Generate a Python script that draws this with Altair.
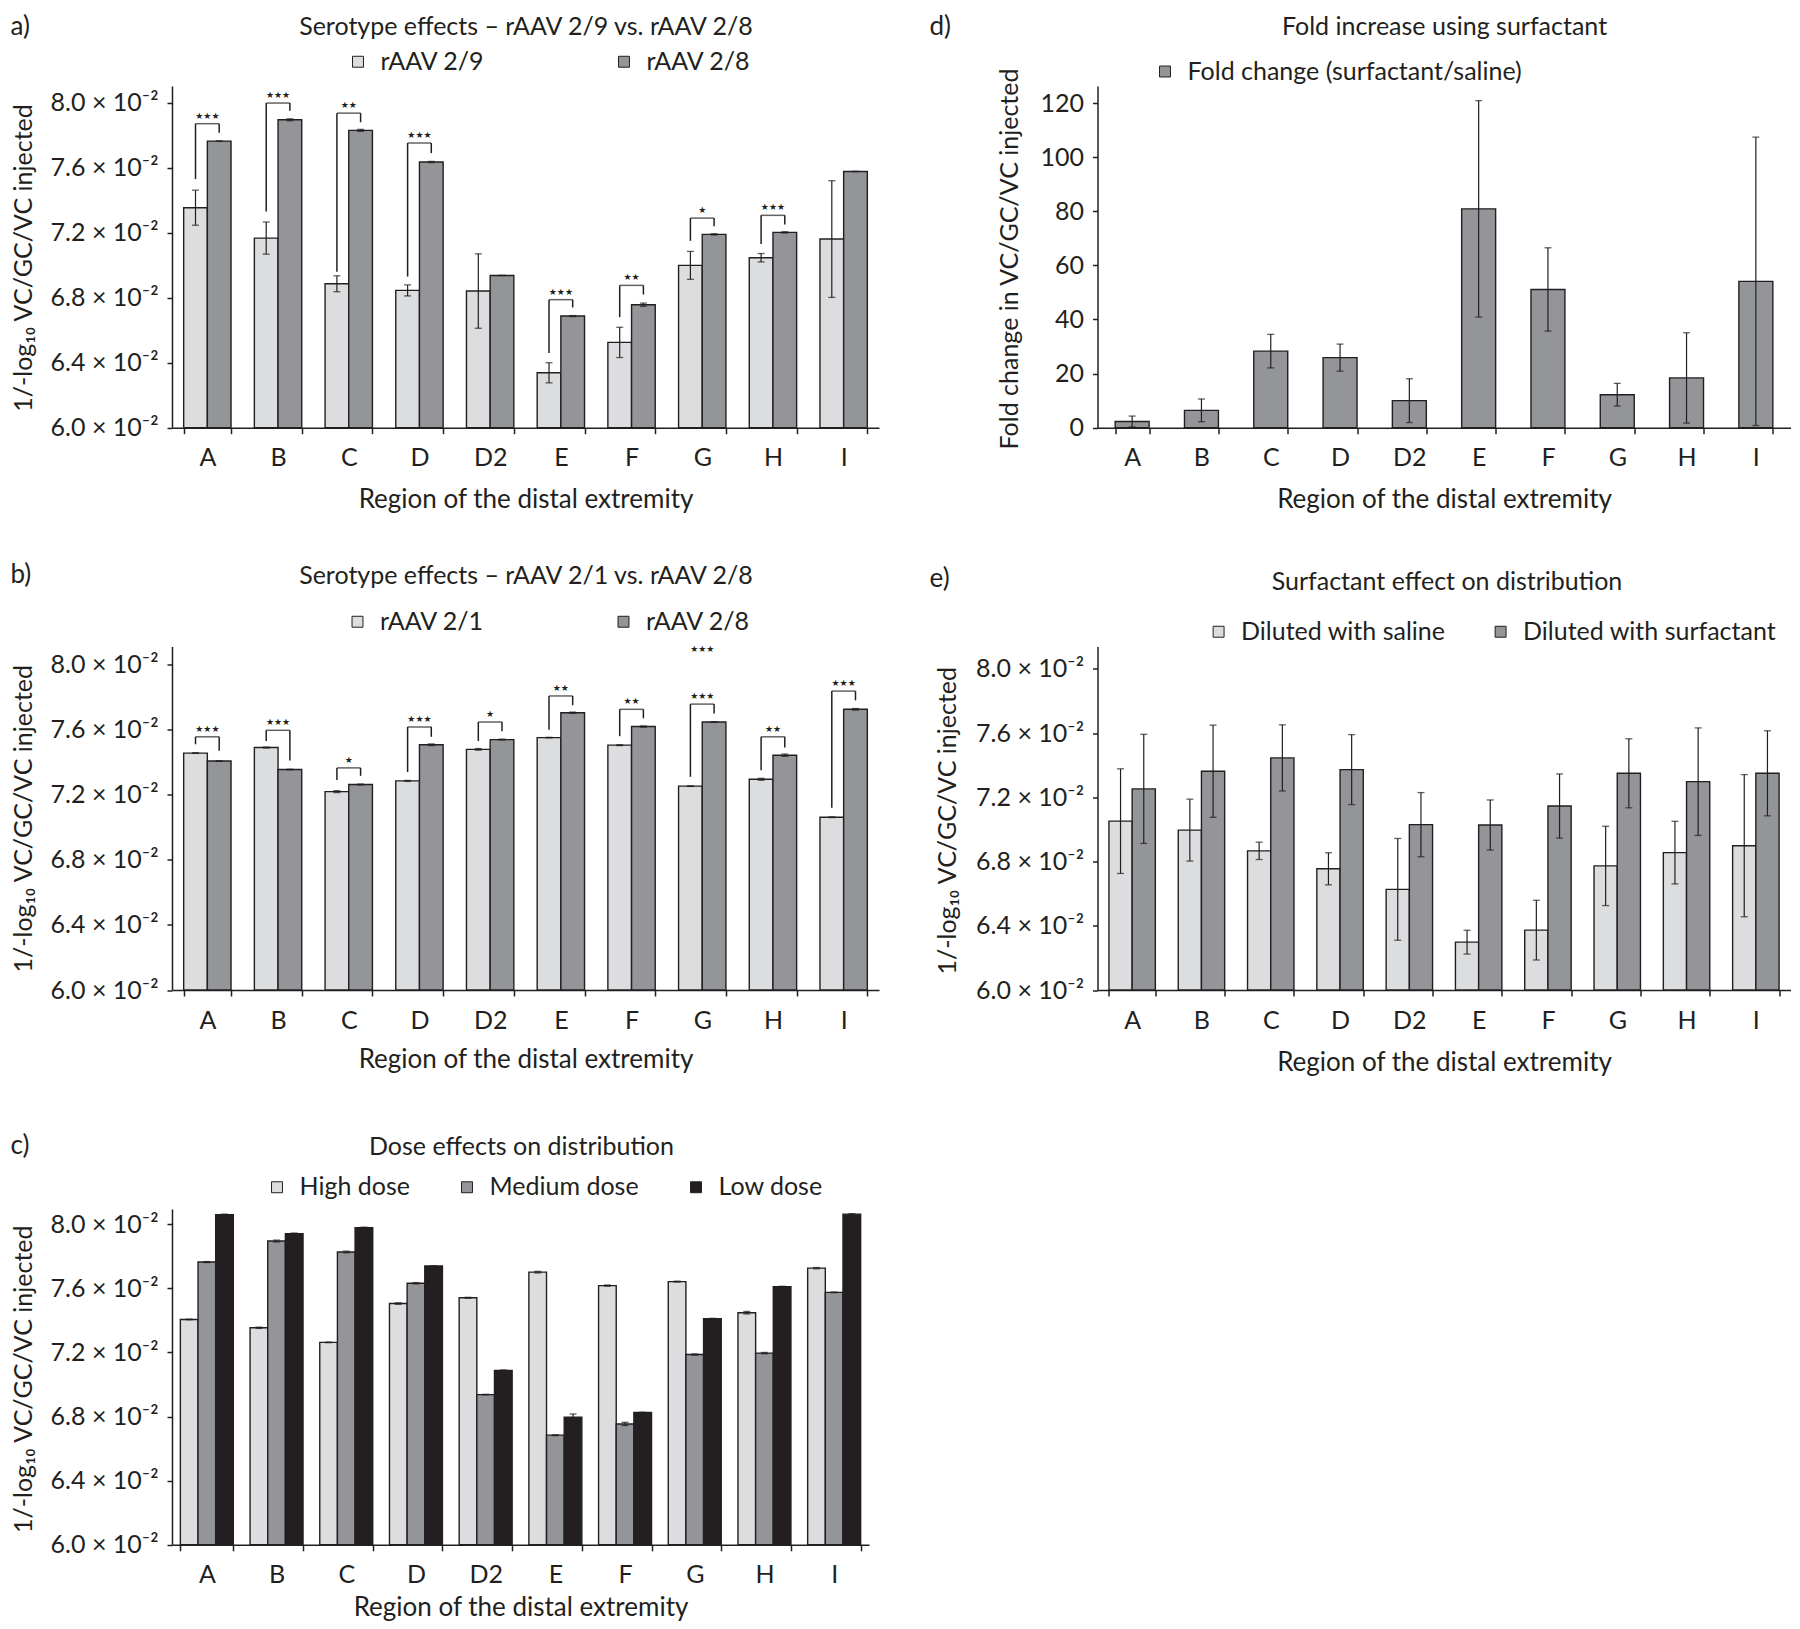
import altair as alt
import pandas as pd

CATS = ["A", "B", "C", "D", "D2", "E", "F", "G", "H", "I"]

# ---------------- a) Serotype effects - rAAV 2/9 vs rAAV 2/8 (values x10^-2)
A_SERIES = ["rAAV 2/9", "rAAV 2/8"]
A_RAAV29 = [7.354, 7.167, 6.886, 6.845, 6.841, 6.338, 6.525, 6.999, 7.046, 7.161]
A_RAAV29_ERR = [0.108, 0.099, 0.049, 0.034, 0.229, 0.062, 0.093, 0.086, 0.026, 0.359]
A_RAAV28 = [7.764, 7.895, 7.830, 7.635, 6.937, 6.687, 6.757, 7.190, 7.202, 7.577]
A_RAAV28_ERR = [0.0, 0.006, 0.006, 0.004, 0.0, 0.003, 0.010, 0.004, 0.004, 0.0]
A_SIG = ["***", "***", "**", "***", "", "***", "**", "*", "***", ""]
A_BR_LEVEL = [7.871, 7.998, 7.936, 7.752, None, 6.788, 6.876, 7.290, 7.307, None]
A_BR_LEFT = [7.53, 7.33, 6.96, 6.93, None, 6.46, 6.68, 7.15, 7.13, None]
A_BR_RIGHT = [7.815, 7.95, 7.88, 7.69, None, 6.74, 6.82, 7.24, 7.25, None]

# ---------------- b) Serotype effects - rAAV 2/1 vs rAAV 2/8
B_SERIES = ["rAAV 2/1", "rAAV 2/8"]
B_RAAV21 = [7.456, 7.490, 7.219, 7.285, 7.479, 7.551, 7.505, 7.253, 7.295, 7.062]
B_RAAV21_ERR = [0.002, 0.003, 0.006, 0.003, 0.005, 0.002, 0.003, 0.002, 0.006, 0.002]
B_RAAV28 = [7.407, 7.355, 7.263, 7.507, 7.539, 7.704, 7.619, 7.647, 7.443, 7.725]
B_RAAV28_ERR = [0.002, 0.002, 0.003, 0.005, 0.003, 0.004, 0.004, 0.002, 0.007, 0.005]
B_SIG = ["***", "***", "*", "***", "*", "**", "**", "***", "**", "***"]
B_BR_LEVEL = [7.556, 7.596, 7.365, 7.617, 7.647, 7.807, 7.725, 7.757, 7.556, 7.837]
B_BR_LEFT = [7.51, 7.53, 7.29, 7.34, 7.53, 7.60, 7.56, 7.31, 7.35, 7.12]
B_BR_RIGHT = [7.47, 7.41, 7.316, 7.556, 7.59, 7.75, 7.67, 7.70, 7.49, 7.78]
B_EXTRA_CAT = ["G"]
B_EXTRA_Y = [8.095]
B_EXTRA_SIG = ["***"]

# ---------------- c) Dose effects on distribution
C_SERIES = ["High dose", "Medium dose", "Low dose"]
C_HIGH = [7.406, 7.354, 7.263, 7.505, 7.541, 7.701, 7.617, 7.642, 7.448, 7.726]
C_HIGH_ERR = [0.002, 0.004, 0.002, 0.005, 0.003, 0.005, 0.004, 0.003, 0.008, 0.004]
C_MED = [7.764, 7.895, 7.827, 7.632, 6.937, 6.684, 6.754, 7.187, 7.196, 7.575]
C_MED_ERR = [0.003, 0.006, 0.005, 0.004, 0.002, 0.003, 0.010, 0.004, 0.004, 0.002]
C_LOW = [8.059, 7.941, 7.979, 7.739, 7.088, 6.796, 6.825, 7.411, 7.611, 8.063]
C_LOW_ERR = [0.004, 0.004, 0.003, 0.002, 0.003, 0.020, 0.002, 0.002, 0.002, 0.003]

# ---------------- d) Fold increase using surfactant
D_SERIES = ["Fold change (surfactant/saline)"]
D_FOLD = [2.3, 6.4, 28.3, 25.9, 10.0, 80.9, 51.1, 12.2, 18.4, 54.1]
D_FOLD_ERR = [2.0, 4.2, 6.2, 5.0, 8.1, 40.0, 15.4, 4.2, 16.7, 53.3]

# ---------------- e) Surfactant effect on distribution
E_SERIES = ["Diluted with saline", "Diluted with surfactant"]
E_SALINE = [7.052, 6.996, 6.867, 6.755, 6.627, 6.298, 6.373, 6.773, 6.856, 6.899]
E_SALINE_ERR = [0.326, 0.193, 0.054, 0.100, 0.317, 0.074, 0.186, 0.247, 0.195, 0.443]
E_SURF = [7.253, 7.363, 7.446, 7.373, 7.030, 7.028, 7.146, 7.350, 7.298, 7.350]
E_SURF_ERR = [0.340, 0.287, 0.206, 0.218, 0.200, 0.156, 0.200, 0.215, 0.335, 0.265]

LOG_TICKS = [6.0, 6.4, 6.8, 7.2, 7.6, 8.0]
FOLD_TICKS = [0, 20, 40, 60, 80, 100, 120]

INK = "#231f20"
LIGHT = "#dcdddf"
MID = "#939598"
BLACK = "#231f20"

FONT = "Lato, Roboto, sans-serif"
STARFONT = "DejaVu Sans"
XTITLE = "Region of the distal extremity"
YTITLE_LOG = "1/-log\u2081\u2080 VC/GC/VC injected"
LOG_EXPR = "format(datum.value, '.1f') + ' \u00d7 10\u207b\u00b2'"


def long_df(series, values, errs):
    rows = []
    for s, vals, es in zip(series, values, errs):
        for c, v, e in zip(CATS, vals, es):
            rows.append({"cat": c, "series": s, "v": v, "lo": v - e, "hi": v + e})
    return pd.DataFrame(rows)


def text_layer(text, x, y, size, align="center"):
    return alt.Chart(pd.DataFrame({"t": [text]})).mark_text(
        font=FONT, fontSize=size, color=INK, align=align, baseline="middle"
    ).encode(text="t:N", x=alt.value(x), y=alt.value(y))


def panel(series, colors, values, errs, *, width, height, ydom, pad_inner,
          yticks, label_expr, ytitle, ytitle_xy, xtitle_y, legend_xy, legend_pad,
          title, title_xy, letter, letter_xy, base_val, brackets=None, extra=None):
    df = long_df(series, values, errs)
    yscale = alt.Scale(domain=ydom, nice=False, zero=False)
    xscale = alt.Scale(paddingInner=pad_inner, paddingOuter=pad_inner / 2)
    x_axis = alt.Axis(
        title=XTITLE, labelAngle=0, tickBand="extent", tickSize=6, labelPadding=12,
        labelFont=FONT, labelFontSize=25, titleFont=FONT, titleFontSize=26,
        titleFontWeight="normal", titleX=width / 2, titleY=xtitle_y,
        titleAlign="center", titleBaseline="middle", labelOverlap=False,
    )
    y_axis = alt.Axis(
        title=ytitle, values=yticks, labelExpr=label_expr, tickSize=5, labelPadding=9,
        labelFont=FONT, labelFontSize=25, labelFlush=False, labelOverlap=False,
        titleFont=FONT, titleFontSize=25, titleFontWeight="normal", titleAngle=270,
        titleAlign="center", titleBaseline="middle", titleX=ytitle_xy[0], titleY=ytitle_xy[1],
    )

    def X():
        return alt.X("cat:N", sort=CATS, scale=xscale, axis=x_axis)

    def Y(field):
        return alt.Y(field, scale=yscale, axis=y_axis)

    multi = len(series) > 1
    xo = alt.XOffset("series:N", sort=series,
                     scale=alt.Scale(domain=series, paddingInner=0, paddingOuter=0))
    legend = alt.Legend(
        orient="none", legendX=legend_xy[0], legendY=legend_xy[1], direction="horizontal",
        columns=len(series), title=None, symbolType="square", symbolSize=120,
        symbolStrokeColor=INK, symbolStrokeWidth=1, symbolOpacity=1,
        labelFont=FONT, labelFontSize=25, labelColor=INK, labelOffset=10,
        columnPadding=legend_pad, labelLimit=800,
    )
    base = alt.Chart(df)
    enc = {"x": X()}
    if multi:
        enc["xOffset"] = xo
    bars = base.mark_bar(stroke=INK, strokeWidth=1.4).encode(
        y=Y("v:Q"),
        y2=alt.datum(base_val),
        color=alt.Color("series:N", sort=series,
                        scale=alt.Scale(domain=series, range=colors), legend=legend),
        **enc,
    )
    rules = base.mark_rule(color=INK, strokeWidth=1.2).encode(y=Y("lo:Q"), y2="hi:Q", **enc)
    cap_lo = base.mark_tick(color=INK, size=7, thickness=1.3).encode(y=Y("lo:Q"), **enc)
    cap_hi = base.mark_tick(color=INK, size=7, thickness=1.3).encode(y=Y("hi:Q"), **enc)
    layers = [bars, rules, cap_lo, cap_hi]

    if brackets is not None:
        left, level, right, sig = brackets
        vrows, hrows = [], []
        for c, l, lv, r, s in zip(CATS, left, level, right, sig):
            if not s:
                continue
            vrows.append({"cat": c, "series": series[0], "y": l, "y2": lv})
            vrows.append({"cat": c, "series": series[1], "y": r, "y2": lv})
            hrows.append({"cat": c, "y": lv, "sig": s.replace("*", "\u2605")})
        vdf = pd.DataFrame(vrows)
        hdf = pd.DataFrame(hrows)
        step = width / 10.0
        bw = step * (1 - pad_inner)
        layers.append(alt.Chart(vdf).mark_rule(color=INK, strokeWidth=1.5).encode(
            x=X(), xOffset=xo, y=Y("y:Q"), y2="y2:Q"))
        layers.append(alt.Chart(hdf).mark_tick(color=INK, thickness=1.5, size=bw / 2).encode(
            x=X(), y=Y("y:Q")))
        layers.append(alt.Chart(hdf).mark_text(
            font=STARFONT, fontSize=9, color=INK, baseline="middle", dy=-8).encode(
            x=X(), y=Y("y:Q"), text="sig:N"))
    if extra is not None:
        ecats, eys, esig = extra
        edf = pd.DataFrame({"cat": ecats, "y": eys,
                            "sig": [s.replace("*", "\u2605") for s in esig]})
        layers.append(alt.Chart(edf).mark_text(
            font=STARFONT, fontSize=9, color=INK, baseline="middle").encode(
            x=X(), y=Y("y:Q"), text="sig:N"))

    layers.append(text_layer(title, title_xy[0], title_xy[1], 25))
    layers.append(text_layer(letter, letter_xy[0], letter_xy[1], 26, align="left"))
    return alt.layer(*layers).properties(width=width, height=height)


chart_a = panel(
    A_SERIES, [LIGHT, MID], [A_RAAV29, A_RAAV28], [A_RAAV29_ERR, A_RAAV28_ERR],
    width=707, height=341.7, ydom=[6.0, 8.103], pad_inner=0.33,
    yticks=LOG_TICKS, label_expr=LOG_EXPR, ytitle=YTITLE_LOG, ytitle_xy=(-149, 171.5),
    xtitle_y=71.3, legend_xy=(173.5, -37), legend_pad=127,
    title="Serotype effects \u2013 rAAV 2/9 vs. rAAV 2/8", title_xy=(354, -59),
    letter="a)", letter_xy=(-161.5, -59), base_val=6.0,
    brackets=(A_BR_LEFT, A_BR_LEVEL, A_BR_RIGHT, A_SIG),
)

chart_d = panel(
    D_SERIES, [MID], [D_FOLD], [D_FOLD_ERR],
    width=693, height=341.7, ydom=[0, 126.3], pad_inner=0.51,
    yticks=FOLD_TICKS, label_expr="format(datum.value, 'd')",
    ytitle="Fold change in VC/GC/VC injected", ytitle_xy=(-88, 172.5),
    xtitle_y=71.3, legend_xy=(55, -27), legend_pad=50,
    title="Fold increase using surfactant", title_xy=(347, -59),
    letter="d)", letter_xy=(-168, -59), base_val=0,
)

chart_b = panel(
    B_SERIES, [LIGHT, MID], [B_RAAV21, B_RAAV28], [B_RAAV21_ERR, B_RAAV28_ERR],
    width=707, height=343.5, ydom=[6.0, 8.111], pad_inner=0.33,
    yticks=LOG_TICKS, label_expr=LOG_EXPR, ytitle=YTITLE_LOG, ytitle_xy=(-149, 171.8),
    xtitle_y=69.3, legend_xy=(173, -37.5), legend_pad=127,
    title="Serotype effects \u2013 rAAV 2/1 vs. rAAV 2/8", title_xy=(354, -70.2),
    letter="b)", letter_xy=(-161.5, -71.2), base_val=6.0,
    brackets=(B_BR_LEFT, B_BR_LEVEL, B_BR_RIGHT, B_SIG),
    extra=(B_EXTRA_CAT, B_EXTRA_Y, B_EXTRA_SIG),
)

chart_e = panel(
    E_SERIES, [LIGHT, MID], [E_SALINE, E_SURF], [E_SALINE_ERR, E_SURF_ERR],
    width=693, height=343.5, ydom=[6.0, 8.140], pad_inner=0.33,
    yticks=LOG_TICKS, label_expr=LOG_EXPR, ytitle=YTITLE_LOG, ytitle_xy=(-150, 173.8),
    xtitle_y=72.7, legend_xy=(108.6, -27.5), legend_pad=42,
    title="Surfactant effect on distribution", title_xy=(349.5, -64.2),
    letter="e)", letter_xy=(-168, -67.2), base_val=6.0,
)

chart_c = panel(
    C_SERIES, [LIGHT, MID, BLACK], [C_HIGH, C_MED, C_LOW], [C_HIGH_ERR, C_MED_ERR, C_LOW_ERR],
    width=697, height=335.8, ydom=[6.0, 8.095], pad_inner=0.24,
    yticks=LOG_TICKS, label_expr=LOG_EXPR, ytitle=YTITLE_LOG, ytitle_xy=(-149, 169.8),
    xtitle_y=62.5, legend_xy=(92.5, -34.5), legend_pad=44,
    title="Dose effects on distribution", title_xy=(349.5, -61.6),
    letter="c)", letter_xy=(-161.5, -63.2), base_val=6.0,
)

chart = alt.concat(
    chart_a, chart_d, chart_b, chart_e, chart_c,
    columns=2, spacing={"row": 218.5, "column": 218.5}, bounds="flush",
).resolve_scale(
    color="independent", xOffset="independent", x="independent", y="independent"
).resolve_legend(color="independent").configure_view(stroke=None).configure_axis(
    grid=False, domainColor=INK, tickColor=INK, labelColor=INK, titleColor=INK,
    domainWidth=1.5, tickWidth=1.5,
).properties(padding={"left": 2, "top": 6, "right": 0, "bottom": 0})

chart.save("out.html", embed_options={"renderer": "svg", "actions": False})
